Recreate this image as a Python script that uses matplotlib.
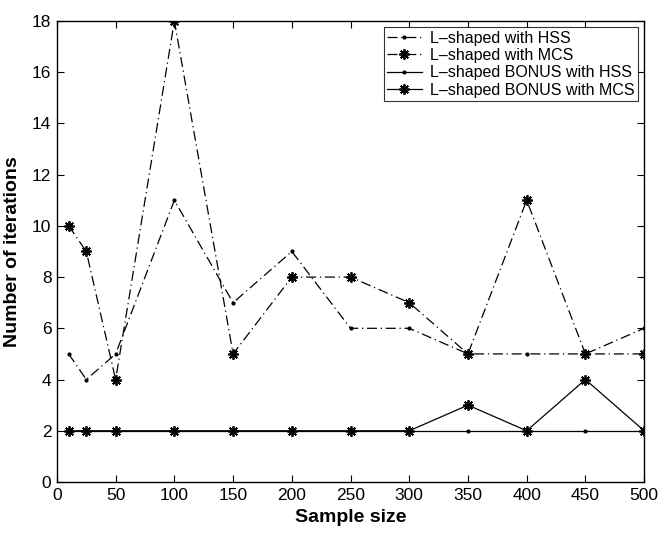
import matplotlib
matplotlib.use("Agg")
import matplotlib.pyplot as plt

# data
sample_size = [10, 25, 50, 100, 150, 200, 250, 300, 350, 400, 450, 500]
hss = [5, 4, 5, 11, 7, 9, 6, 6, 5, 5, 5, 6]
mcs = [10, 9, 4, 18, 5, 8, 8, 7, 5, 11, 5, 5]
bonus_hss = [2, 2, 2, 2, 2, 2, 2, 2, 2, 2, 2, 2]
bonus_mcs = [2, 2, 2, 2, 2, 2, 2, 2, 3, 2, 4, 2]

plt.rcParams["font.family"] = ["Liberation Sans", "DejaVu Sans"]

fig = plt.figure(figsize=(6.62, 5.33), dpi=100)
ax = fig.add_axes([0.086, 0.0957, 0.887, 0.865])

star = (8, 2, 0)  # matlab style asterisk
dashdot = (8, 3, 1, 3)
ax.plot(sample_size, hss, color="black", linestyle="-.", dashes=dashdot, marker=".",
        markersize=4, linewidth=0.9, label="L\u2013shaped with HSS")
ax.plot(sample_size, mcs, color="black", linestyle="-.", dashes=dashdot, marker=star,
        markersize=7.5, markeredgewidth=1.3, linewidth=0.9, label="L\u2013shaped with MCS")
ax.plot(sample_size, bonus_hss, color="black", linestyle="-", marker=".", markersize=4,
        linewidth=0.9, label="L\u2013shaped BONUS with HSS")
ax.plot(sample_size, bonus_mcs, color="black", linestyle="-", marker=star, markersize=7.5,
        markeredgewidth=1.3, linewidth=0.9, label="L\u2013shaped BONUS with MCS")

ax.set_xlim(0, 500)
ax.set_ylim(0, 18)
ax.set_xticks(range(0, 501, 50))
ax.set_yticks(range(0, 19, 2))
ax.tick_params(direction="in", top=True, right=True, labelsize=12.5, length=5, pad=4)
for s in ax.spines.values():
    s.set_linewidth(1.0)

ax.set_xlabel("Sample size", fontsize=14, fontweight="bold", labelpad=5)
ax.set_ylabel("Number of iterations", fontsize=14, fontweight="bold", labelpad=8)

leg = ax.legend(loc="upper right", fontsize=11.5, frameon=True, fancybox=False,
                edgecolor="black", handlelength=2.2, borderaxespad=0.4,
                labelspacing=0.15, borderpad=0.2, handletextpad=0.5)
leg.get_frame().set_linewidth(0.8)

fig.savefig("out.png", dpi=100)
